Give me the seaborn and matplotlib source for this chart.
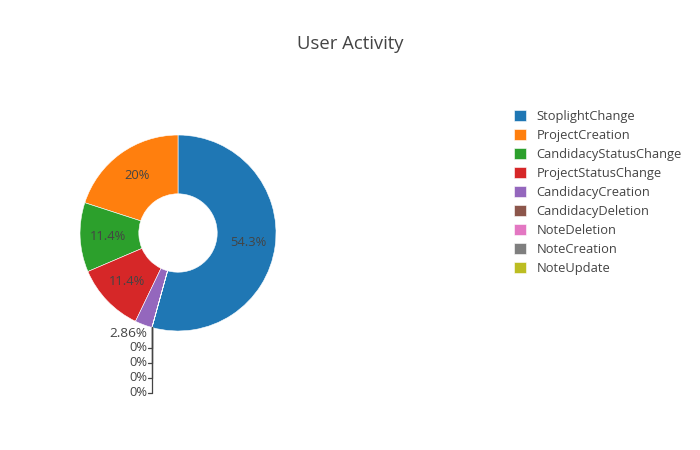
import numpy as np
import matplotlib
matplotlib.use("Agg")
import matplotlib.pyplot as plt
import seaborn as sns

# event counts per activity type
labels = ["StoplightChange", "ProjectCreation", "CandidacyStatusChange",
          "ProjectStatusChange", "CandidacyCreation", "CandidacyDeletion",
          "NoteDeletion", "NoteCreation", "NoteUpdate"]
counts = [19, 7, 4, 4, 1, 0, 0, 0, 0]

sns.set_theme(style="white")
plt.rcParams["font.family"] = ["Open Sans", "DejaVu Sans"]
txt = "#444444"
fs = 9.3

colors = sns.color_palette("tab10", len(labels))
total = sum(counts)
pct = [100 * c / total for c in counts]

fig = plt.figure(figsize=(7, 4.5), dpi=100)
ax = fig.add_axes([0.1143, 0.2644, 0.28, 0.4356])

# first slice goes clockwise from 12 o'clock, others continue counter-clockwise
start = 90 - 360 * counts[0] / total
wedges, _ = ax.pie(counts, colors=colors, startangle=start, counterclock=True,
                   wedgeprops=dict(width=0.6, edgecolor="white", linewidth=0.4))
ax.set_xlim(-1, 1)
ax.set_ylim(-1, 1)
ax.set_aspect("equal")

def fmt(p):
    s = f"{p:.3g}"
    return s + "%"

# inside labels for the big slices, outside for the small ones
outside = []
for w, p in zip(wedges, pct):
    mid = np.deg2rad((w.theta1 + w.theta2) / 2)
    if p >= 5:
        r = 0.72
        ax.text(r * np.cos(mid), r * np.sin(mid), fmt(p), ha="center", va="center",
                fontsize=fs, color=txt)
    else:
        outside.append((mid, p))

for i, (mid, p) in enumerate(outside):
    ex, ey = np.cos(mid), np.sin(mid)
    if p > 0:
        ax.text(ex + 0.04, ey - 0.09, fmt(p), ha="right", va="center",
                fontsize=fs + 0.4, color=txt)
    else:
        ly = -1.173 - 0.153 * (i - 1)  # stack the zero labels below the slice
        ax.plot([ex, ex], [ey, ly], color=txt, lw=0.9, clip_on=False)
        ax.plot([ex - 0.04, ex], [ly, ly], color=txt, lw=0.9, clip_on=False)
        ax.text(ex - 0.045, ly, fmt(p), ha="right", va="center",
                fontsize=fs, color=txt)

fig.suptitle("User Activity", x=0.5, y=1 - 44 / 450, va="center",
             fontsize=13.3, color=txt)

leg = fig.legend(wedges, labels, loc="upper left", bbox_to_anchor=(0.727, 0.768),
                 frameon=False, fontsize=fs, handlelength=0.95, handleheight=0.95,
                 handletextpad=0.8, labelspacing=0.47, borderaxespad=0)
for t in leg.get_texts():
    t.set_color(txt)

fig.savefig("out.png", dpi=100)
